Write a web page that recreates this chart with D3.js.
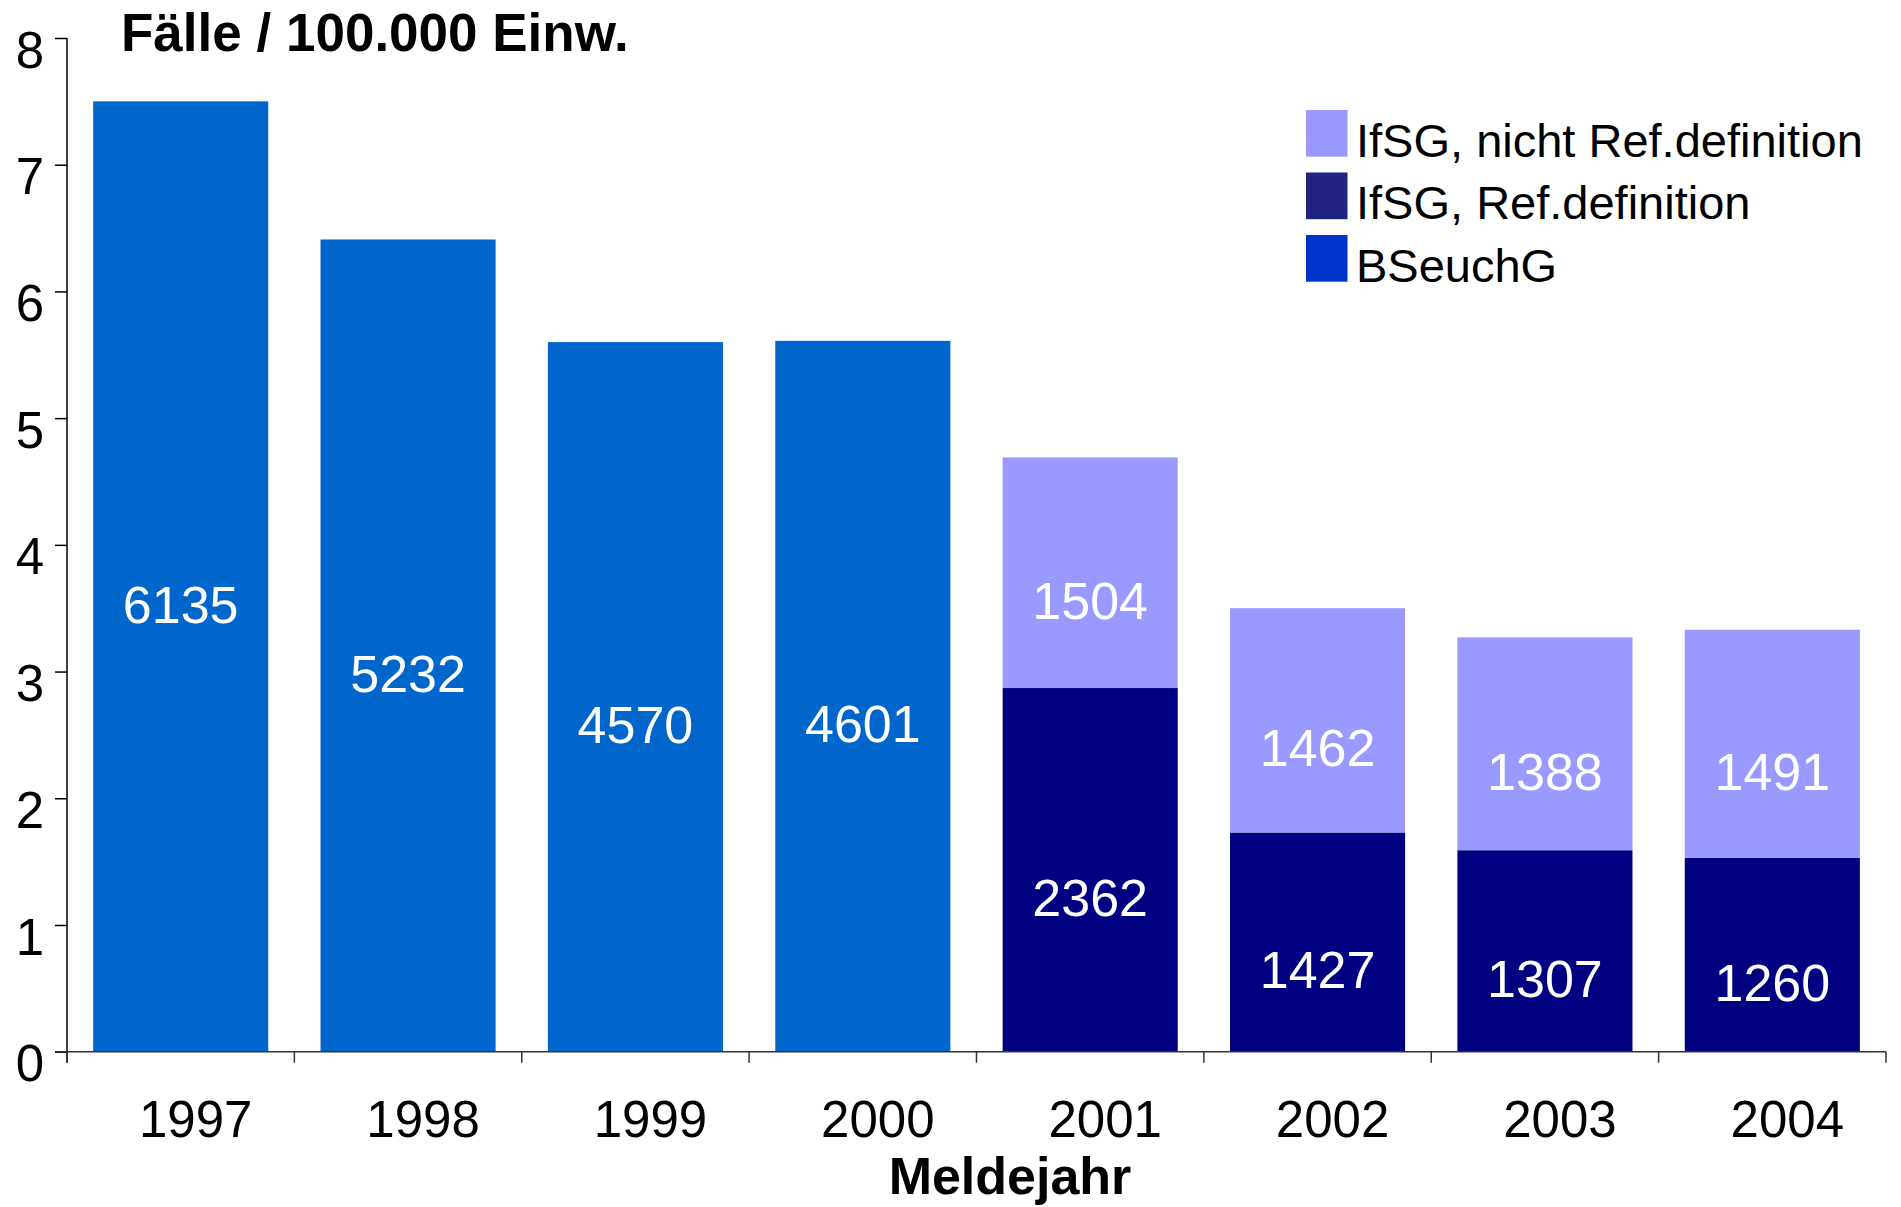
<!DOCTYPE html>
<html><head><meta charset="utf-8">
<script src="https://cdn.jsdelivr.net/npm/d3@7"></script>
<style>
body{margin:0;background:#fff}
svg{display:block}
text{font-family:"Liberation Sans",Arial,Helvetica,sans-serif}
</style>
</head><body>
<svg id="c" width="1901" height="1207"></svg>
<script>
// ---- data ----
const years = ["1997","1998","1999","2000","2001","2002","2003","2004"];
const bseuchG      = [7.50, 6.41, 5.60, 5.61, 0, 0, 0, 0];        // Fälle / 100.000 Einw.
const ifsgRef      = [0, 0, 0, 0, 2.87, 1.73, 1.59, 1.53];
const ifsgNichtRef = [0, 0, 0, 0, 1.82, 1.77, 1.68, 1.80];
const bseuchGCases      = [6135, 5232, 4570, 4601, null, null, null, null];
const ifsgRefCases      = [null, null, null, null, 2362, 1427, 1307, 1260];
const ifsgNichtRefCases = [null, null, null, null, 1504, 1462, 1388, 1491];
const yTicks = [0,1,2,3,4,5,6,7,8];
const seriesKeys   = ["bseuchG","ifsgRef","ifsgNichtRef"];
const seriesNames  = {bseuchG:"BSeuchG", ifsgRef:"IfSG, Ref.definition", ifsgNichtRef:"IfSG, nicht Ref.definition"};
const legendOrder  = ["ifsgNichtRef","ifsgRef","bseuchG"];
const titleText = "Fälle / 100.000 Einw.";
const xTitleText = "Meldejahr";

// ---- styles ----
const barColor    = {bseuchG:"#0066CC", ifsgRef:"#000080", ifsgNichtRef:"#9999FF"};
const legendColor = {bseuchG:"#0033CC", ifsgRef:"#222280", ifsgNichtRef:"#9999FF"};

const table = years.map((yr,i)=>({year:yr,
  bseuchG:bseuchG[i], ifsgRef:ifsgRef[i], ifsgNichtRef:ifsgNichtRef[i],
  cases:{bseuchG:bseuchGCases[i], ifsgRef:ifsgRefCases[i], ifsgNichtRef:ifsgNichtRefCases[i]}}));

const svg = d3.select("#c");
const x = d3.scaleBand().domain(years).range([67,1886]).paddingInner(0.23).paddingOuter(0.115);
const y = d3.scaleLinear().domain([0,8]).range([1051.7,38]);

const stacked = d3.stack().keys(seriesKeys)(table);

// bars
const layers = svg.append("g").selectAll("g").data(stacked).join("g")
  .attr("fill", d=>barColor[d.key]);
layers.selectAll("rect").data(d=>d.filter(s=>s[1]-s[0]>0)).join("rect")
  .attr("x", d=>x(d.data.year))
  .attr("width", x.bandwidth())
  .attr("y", d=>y(d[1]))
  .attr("height", d=>y(d[0])-y(d[1]));

// value labels
stacked.forEach(layer=>{
  svg.append("g").selectAll("text")
    .data(layer.filter(s=>s.data.cases[layer.key]!=null))
    .join("text")
    .attr("x", d=>x(d.data.year)+x.bandwidth()/2)
    .attr("y", d=>(y(d[0])+y(d[1]))/2 + 46)
    .attr("text-anchor","middle")
    .attr("fill","#fff")
    .attr("font-size",52)
    .text(d=>d.data.cases[layer.key]);
});

// y axis
const yAxis = svg.append("g").attr("transform","translate(67,0)")
  .call(d3.axisLeft(y).tickValues(yTicks).tickSize(12).tickSizeOuter(0).tickFormat(d3.format("d")));
yAxis.select(".domain").remove();
yAxis.selectAll(".tick line").attr("stroke","#000").attr("stroke-width",1.5);
yAxis.selectAll(".tick text").attr("x",-23).attr("dy","0.57em")
  .attr("font-size",51).attr("fill","#000").attr("font-family",null);
svg.append("line").attr("x1",67).attr("x2",67).attr("y1",y(8)).attr("y2",y(0)+11)
  .attr("stroke","#000").attr("stroke-width",1.5);

// x axis
svg.append("line").attr("x1",55).attr("x2",x.range()[1]).attr("y1",y(0)).attr("y2",y(0))
  .attr("stroke","#333").attr("stroke-width",1.5);
const bounds = years.map(d=>x(d)-x.step()*x.paddingInner()/2).concat([x.range()[1]]);
svg.append("g").selectAll("line").data(bounds).join("line")
  .attr("x1",d=>d).attr("x2",d=>d).attr("y1",y(0)).attr("y2",y(0)+11)
  .attr("stroke","#333").attr("stroke-width",1.5);
svg.append("g").selectAll("text").data(years).join("text")
  .attr("x", d=>x(d)+x.bandwidth()/2+15)
  .attr("y", 1137)
  .attr("text-anchor","middle")
  .attr("font-size",51)
  .attr("fill","#000")
  .text(d=>d);

// titles
svg.append("text").attr("x",121).attr("y",51).attr("font-size",53).attr("font-weight","bold")
  .attr("fill","#000").text(titleText);
svg.append("text").attr("x",1010).attr("y",1194).attr("text-anchor","middle")
  .attr("font-size",52).attr("font-weight","bold").attr("fill","#000").text(xTitleText);

// legend
const lg = svg.append("g").selectAll("g").data(legendOrder).join("g")
  .attr("transform",(d,i)=>`translate(1306,${110 + i*62.5})`);
lg.append("rect").attr("width",41.5).attr("height",46.7).attr("fill",d=>legendColor[d]);
lg.append("text").attr("x",50).attr("y",46.5).attr("font-size",47).attr("fill","#000")
  .text(d=>seriesNames[d]);
</script>
</body></html>
